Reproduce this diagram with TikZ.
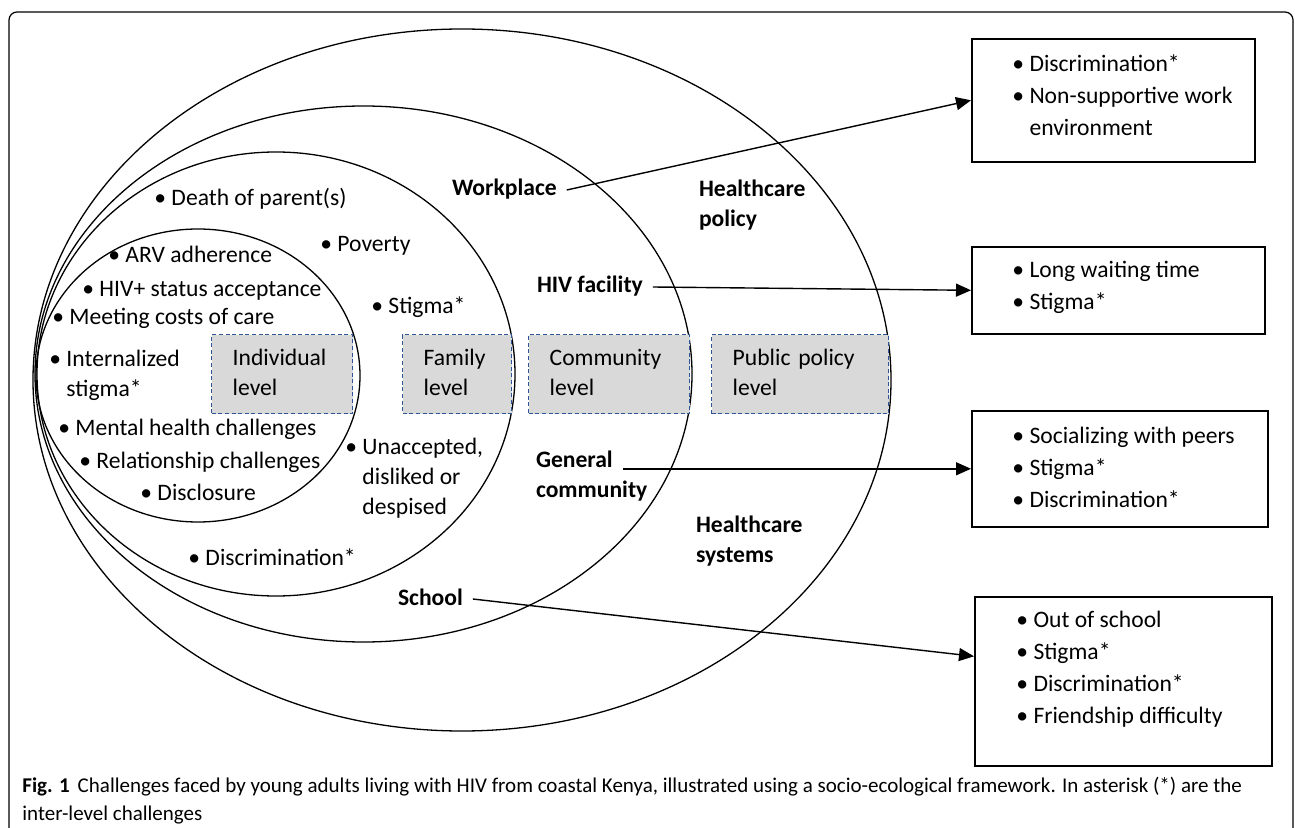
\documentclass[tikz,border=0pt]{standalone}
\usepackage{fontspec}
\setmainfont{Carlito}
\usepackage{tikz}
\usetikzlibrary{arrows.meta,positioning}
\definecolor{lvlblue}{RGB}{47,85,151}
\definecolor{lvlgray}{RGB}{217,217,217}

\begin{document}
\begin{tikzpicture}[x=0.5pt,y=-0.5pt,
    ring/.style={line width=0.65pt},
    itm/.style={anchor=west,inner sep=0pt,align=left,font=\fontsize{11.8}{15}\selectfont,
      execute at begin node=\strut,execute at end node=\strut},
    lbl/.style={itm,font=\fontsize{11.8}{15}\selectfont\bfseries,outer xsep=5pt,outer ysep=0pt},
    bx/.style={itm,font=\fontsize{11.8}{16}\selectfont},
    lvl/.style={anchor=north west,draw=lvlblue,fill=lvlgray,dash pattern=on 2pt off 1.3pt,
      line width=0.7pt,minimum height=39.5pt,inner xsep=10.5pt,text width=#1,align=left,
      font=\fontsize{11.8}{15}\selectfont,execute at begin node=\strut,execute at end node=\strut},
    box/.style={anchor=north west,draw,line width=0.8pt},
    arr/.style={-{Triangle[length=7.5pt,width=6.5pt]},line width=0.7pt}]
  \useasboundingbox (0,0) rectangle (1295,828);
  \draw[line width=0.6pt,rounded corners=4pt] (9,850) -- (9,12) -- (1293,12) -- (1293,850);

  \draw[ring] (462,380) ellipse [x radius=429,y radius=351];
  \draw[ring] (363.5,374) ellipse [x radius=328.5,y radius=268];
  \draw[ring] (276,374) ellipse [x radius=239,y radius=222];
  \draw[ring] (198,375.5) ellipse [x radius=162,y radius=146.5];

  \node[lvl=49.5pt] (lvl_1) at (211,334) {Individual\\level};
  \node[lvl=33.5pt] (lvl_2) at (402,334) {Family\\level};
  \node[lvl=59.5pt] (lvl_3) at (528,334) {Community\\level};
  \node[lvl=67.5pt] (lvl_4) at (711,334) {Public policy\\level};

  \node[itm] (i_1) at (108,257) {\textbullet\ ARV adherence};
  \node[itm] (i_2) at (82,291) {\textbullet\ HIV+ status acceptance};
  \node[itm] (i_3) at (52,319) {\textbullet\ Meeting costs of care};
  \node[itm] (i_4) at (49,378) {\textbullet\ Internalized\\\hphantom{\textbullet\ }stigma*};
  \node[itm] (i_5) at (58,430) {\textbullet\ Mental health challenges};
  \node[itm] (i_6) at (79,462) {\textbullet\ Relationship challenges};
  \node[itm] (i_7) at (140,494) {\textbullet\ Disclosure};

  \node[itm] (f_1) at (154,200) {\textbullet\ Death of parent(s)};
  \node[itm] (f_2) at (320,246) {\textbullet\ Poverty};
  \node[itm] (f_3) at (371,308) {\textbullet\ Stigma*};
  \node[itm] (f_4) at (345,481) {\textbullet\ Unaccepted,\\\hphantom{\textbullet\ }disliked or\\\hphantom{\textbullet\ }despised};
  \node[itm] (f_5) at (188,559) {\textbullet\ Discrimination*};

  \node[lbl] (wp) at (442,190) {Workplace};
  \node[lbl] (hiv) at (527,287) {HIV facility};
  \node[lbl] (gen_1) at (526,461) {General};
  \node[lbl,below right=0pt and 0pt of gen_1.south west] (gen_2) {community};
  \node[lbl] (sch) at (388,599) {School};
  \node[lbl] (hc_1) at (689,208) {Healthcare\\policy};
  \node[lbl] (hc_2) at (686,544) {Healthcare\\systems};

  \node[box,minimum width=141.5pt,minimum height=61.5pt] (box_1) at (971,38) {};
  \node[box,minimum width=146.5pt,minimum height=43.5pt] (box_2) at (971,246) {};
  \node[box,minimum width=148pt,minimum height=58pt] (box_3) at (971,410) {};
  \node[box,minimum width=148.5pt,minimum height=84.5pt] (box_4) at (974,596) {};

  \node[bx,right=20.5pt of box_1.west] (txt_1) {\textbullet\ Discrimination*\\\textbullet\ Non-supportive work\\\hphantom{\textbullet\ }environment};
  \node[bx,right=20.5pt of box_2.west] (txt_2) {\textbullet\ Long waiting time\\\textbullet\ Stigma*};
  \node[bx,right=20.5pt of box_3.west,yshift=-1.5pt] (txt_3) {\textbullet\ Socializing with peers\\\textbullet\ Stigma*\\\textbullet\ Discrimination*};
  \node[bx,right=21pt of box_4.west,yshift=4.5pt] (txt_4) {\textbullet\ Out of school\\\textbullet\ Stigma*\\\textbullet\ Discrimination*\\\textbullet\ Friendship difficulty};

  \draw[arr] (wp.east) -- (box_1.west);
  \draw[arr] (hiv.east) -- (box_2.west);
  \draw[arr] (gen_1.east |- box_3.west) -- (box_3.west);
  \draw[arr] (sch.east) -- ([yshift=12.5pt]box_4.west);

  \node[anchor=west,inner sep=0pt,align=left,font=\fontsize{10.5}{14}\selectfont] (cap) at (22,801)
    {\textbf{Fig. 1}\hspace{4pt}Challenges faced by young adults living with HIV from coastal Kenya, illustrated using a socio-ecological framework. In asterisk (*) are the\\inter-level challenges};
\end{tikzpicture}
\end{document}
